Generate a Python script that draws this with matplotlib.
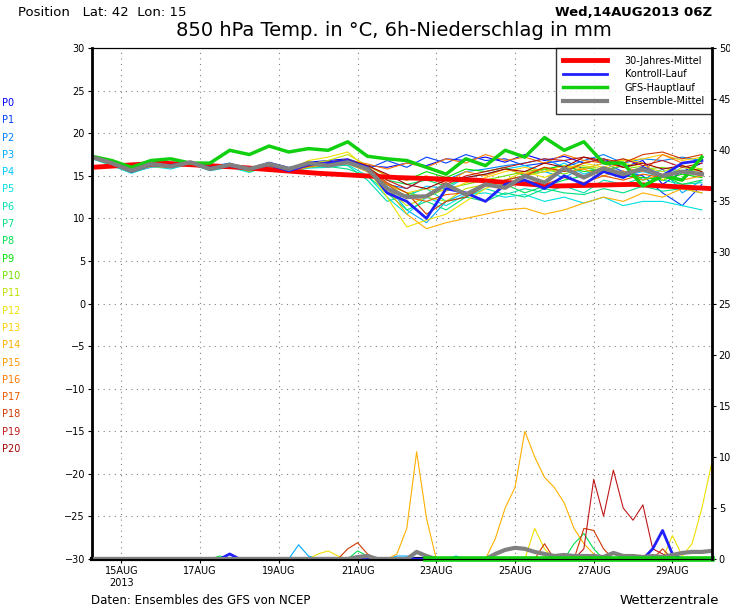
import numpy as np
import matplotlib
matplotlib.use("Agg")
import matplotlib.pyplot as plt

# 12-hourly temperature times (day of August 2013), 6-hourly for precipitation
t12 = [14.25 + 0.5 * k for k in range(32)]
t6 = [14.25 + 0.25 * k for k in range(64)]

member_colors = [
    "#0000ff", "#0040ff", "#0080ff", "#00a8ff", "#00c8ff", "#00e0e0", "#00e0b0",
    "#00e080", "#00e050", "#00e000", "#70e000", "#c0e000", "#f0e000", "#ffd000",
    "#ffb000", "#ff9800", "#ff7800", "#e85800", "#d03800", "#c01818", "#a00000",
]

members_temp = [
    [17.3, 16.6, 15.5, 16.2, 16.0, 16.6, 15.9, 16.4, 15.7, 16.5, 15.8, 16.6, 16.8, 17.0, 16.2, 16.0, 16.5, 16.2, 17.0, 16.8, 17.2, 16.6, 17.5, 16.8, 17.3, 16.5, 17.0, 16.0, 16.8, 14.0, 15.5, 16.5],
    [17.2, 16.4, 15.7, 16.4, 16.2, 16.7, 16.0, 16.2, 15.9, 16.6, 16.0, 16.4, 16.6, 16.9, 15.8, 16.8, 16.0, 17.2, 16.5, 17.5, 16.8, 17.0, 16.2, 16.5, 16.8, 15.8, 16.5, 15.5, 15.0, 13.0, 11.5, 14.0],
    [17.4, 16.5, 15.6, 16.3, 16.1, 16.4, 16.1, 16.5, 15.8, 16.2, 15.6, 16.3, 16.4, 16.7, 15.5, 14.0, 13.5, 14.8, 14.5, 15.5, 15.8, 16.2, 16.5, 17.0, 16.0, 16.8, 17.5, 16.5, 17.0, 16.8, 17.2, 16.8],
    [17.1, 16.3, 15.4, 16.0, 16.3, 16.5, 15.7, 16.3, 15.6, 16.1, 15.4, 16.0, 16.2, 16.5, 15.5, 13.8, 11.0, 9.5, 12.0, 13.0, 13.8, 14.5, 15.0, 15.5, 14.8, 16.0, 15.5, 16.2, 14.5, 15.8, 13.0, 14.5],
    [17.2, 16.5, 15.5, 16.2, 16.0, 16.3, 15.8, 16.1, 15.5, 16.0, 15.7, 16.1, 16.3, 16.6, 15.8, 14.0, 12.5, 13.8, 13.5, 14.8, 15.2, 15.8, 16.2, 15.5, 16.5, 15.2, 16.0, 15.0, 15.5, 14.8, 16.0, 15.5],
    [17.0, 16.2, 15.3, 16.1, 15.8, 16.4, 15.6, 16.0, 15.4, 16.2, 15.5, 15.9, 16.0, 16.3, 15.0, 12.5, 10.5, 12.5, 11.5, 12.8, 13.0, 12.5, 12.8, 12.0, 12.5, 11.8, 12.5, 11.5, 12.0, 12.0, 11.5, 11.0],
    [17.3, 16.4, 15.6, 16.2, 16.1, 16.5, 15.9, 16.3, 15.7, 16.3, 15.6, 16.2, 16.4, 16.2, 14.5, 12.0, 12.8, 13.5, 12.0, 12.5, 13.5, 12.8, 13.5, 13.0, 13.8, 13.0, 14.5, 14.0, 14.8, 14.5, 14.0, 14.2],
    [17.2, 16.3, 15.5, 16.1, 16.0, 16.4, 15.8, 16.2, 15.6, 16.1, 15.5, 16.0, 16.1, 15.8, 15.0, 13.0, 11.0, 12.0, 11.0, 12.5, 12.0, 13.0, 12.5, 13.5, 13.0, 12.8, 13.5, 13.0, 13.8, 13.2, 13.5, 13.0],
    [17.3, 16.5, 15.6, 16.2, 16.1, 16.5, 15.9, 16.3, 15.7, 16.2, 15.6, 16.1, 16.5, 16.8, 16.0, 14.5, 14.0, 14.5, 13.8, 14.8, 14.2, 14.0, 13.0, 13.8, 14.5, 15.0, 15.5, 15.2, 14.5, 15.0, 14.0, 14.5],
    [17.2, 16.4, 15.5, 16.3, 16.0, 16.6, 15.8, 16.4, 15.6, 16.4, 15.7, 16.3, 16.6, 16.9, 16.2, 15.0, 14.5, 15.5, 14.8, 15.8, 15.5, 16.0, 15.0, 15.8, 16.2, 15.5, 15.8, 15.0, 14.8, 14.5, 15.2, 14.8],
    [17.1, 16.3, 15.4, 16.2, 16.1, 16.5, 15.7, 16.2, 15.5, 16.2, 15.6, 16.2, 16.5, 16.7, 15.8, 14.0, 13.0, 12.5, 13.5, 14.0, 14.5, 15.0, 15.5, 15.8, 15.2, 16.0, 15.6, 16.2, 15.8, 16.0, 15.5, 15.8],
    [17.3, 16.5, 15.6, 16.4, 16.2, 16.7, 16.0, 16.4, 15.8, 16.5, 15.8, 16.4, 16.8, 17.5, 16.2, 13.5, 11.5, 12.5, 12.0, 13.5, 14.0, 14.5, 15.0, 15.5, 15.8, 16.2, 15.8, 16.5, 16.0, 15.5, 16.2, 15.8],
    [17.2, 16.4, 15.5, 16.2, 16.0, 16.5, 15.9, 16.3, 15.6, 16.3, 15.7, 16.8, 17.2, 17.8, 15.8, 12.5, 9.0, 9.8, 10.5, 12.0, 13.5, 14.5, 15.5, 14.8, 15.8, 16.5, 16.0, 17.0, 16.5, 14.5, 16.0, 15.5],
    [17.3, 16.5, 15.6, 16.3, 16.1, 16.6, 15.8, 16.3, 15.7, 16.2, 15.6, 16.2, 16.5, 16.6, 15.8, 14.0, 13.0, 13.5, 13.2, 14.2, 14.8, 15.5, 16.0, 15.5, 16.2, 15.8, 16.5, 16.8, 17.0, 17.5, 16.8, 17.2],
    [17.2, 16.4, 15.5, 16.1, 16.0, 16.4, 15.8, 16.2, 15.6, 16.1, 15.5, 16.0, 16.3, 16.4, 15.5, 13.5, 10.5, 8.8, 9.5, 10.0, 10.5, 11.0, 11.2, 10.5, 11.0, 11.8, 12.5, 12.0, 13.0, 12.5, 13.5, 13.0],
    [17.4, 16.6, 15.7, 16.3, 16.1, 16.6, 15.9, 16.4, 15.8, 16.4, 15.7, 16.3, 16.6, 16.9, 16.2, 15.0, 14.5, 15.0, 14.2, 15.5, 15.0, 15.8, 15.2, 16.0, 15.5, 15.8, 15.0, 15.6, 14.5, 15.2, 14.5, 15.0],
    [17.3, 16.5, 15.6, 16.2, 16.1, 16.5, 15.9, 16.3, 15.7, 16.3, 15.6, 16.2, 16.5, 16.8, 16.4, 15.8, 16.5, 16.0, 17.0, 16.5, 17.5, 16.8, 17.2, 16.5, 17.5, 16.8, 16.5, 16.0, 15.5, 17.5, 16.5, 16.8],
    [17.2, 16.4, 15.5, 16.2, 16.0, 16.5, 15.8, 16.3, 15.6, 16.2, 15.6, 16.1, 16.4, 16.6, 15.8, 14.0, 12.5, 12.0, 12.8, 13.0, 14.0, 13.5, 14.5, 14.0, 14.8, 14.2, 15.0, 14.5, 15.2, 14.8, 15.5, 15.0],
    [17.3, 16.6, 15.7, 16.4, 16.2, 16.6, 16.0, 16.4, 15.8, 16.4, 15.8, 16.3, 16.6, 16.8, 16.0, 14.2, 13.0, 10.5, 12.0, 12.5, 13.8, 14.5, 15.0, 16.0, 15.5, 16.5, 17.0, 16.5, 17.5, 17.8, 17.0, 17.5],
    [17.2, 16.4, 15.6, 16.2, 16.1, 16.5, 15.9, 16.4, 15.7, 16.3, 15.7, 16.2, 16.5, 16.7, 16.0, 14.5, 13.5, 14.8, 14.0, 15.0, 15.5, 16.0, 16.5, 17.0, 16.8, 17.2, 16.5, 17.0, 16.2, 16.8, 16.0, 16.5],
    [17.3, 16.5, 15.6, 16.3, 16.0, 16.6, 15.8, 16.3, 15.7, 16.4, 15.6, 16.3, 16.6, 16.9, 16.2, 15.2, 14.0, 13.5, 14.5, 14.8, 15.2, 15.8, 15.5, 16.5, 16.0, 17.2, 16.8, 16.0, 16.5, 15.8, 16.2, 15.5],
]

control_temp = [17.3, 16.5, 15.5, 16.3, 16.2, 16.6, 15.9, 16.2, 15.8, 16.3, 15.6, 16.3, 16.5, 16.8, 16.0, 13.0, 12.0, 10.0, 13.5, 13.0, 12.0, 14.0, 14.5, 13.5, 15.0, 14.0, 15.5, 14.8, 16.0, 15.0, 16.5, 16.8]
gfs_temp = [17.3, 16.8, 16.0, 16.8, 17.0, 16.5, 16.5, 18.0, 17.5, 18.5, 17.8, 18.2, 18.0, 19.0, 17.3, 17.0, 16.8, 16.0, 15.2, 17.0, 16.2, 18.0, 17.2, 19.5, 18.0, 19.0, 16.5, 16.5, 13.8, 15.0, 14.5, 17.2]
mean_temp = [17.2, 16.5, 15.6, 16.4, 16.1, 16.6, 15.8, 16.3, 15.8, 16.4, 15.8, 16.5, 16.2, 16.6, 15.8, 13.5, 12.5, 12.6, 14.0, 12.8, 14.0, 13.6, 15.0, 14.2, 15.9, 14.8, 15.9, 15.2, 15.8, 15.0, 15.5, 15.2]
clim_days = [14.25, 16.0, 18.0, 20.0, 22.0, 24.0, 26.0, 28.0, 30.0]
clim_temp = [16.0, 16.5, 16.0, 15.3, 14.8, 14.5, 13.8, 14.0, 13.5]

# 6h precipitation in mm, 64 steps (members not listed stay dry)
precip = {i: [0.0] * 64 for i in range(21)}
precip[14] = [0] * 31 + [0.5, 3, 10.5, 4, 0, 0, 0, 0, 0, 0, 2, 5, 7, 12.5, 10, 8, 7, 5.5, 3, 1.5, 0.5, 0] + [0] * 11
precip[12] = [0] * 23 + [0.5, 0.8, 0.3] + [0] * 19 + [3, 1, 0] + [0] * 11 + [2.3, 0.3, 1.5, 5.0, 9.4]
precip[19] = [0] * 50 + [1, 7.8, 4.2, 8.7, 5, 3.8, 5.3, 1, 0.5, 0, 0, 0, 0, 0]
precip[18] = [0] * 26 + [1, 1.6, 0.5] + [0] * 17 + [1.5, 0] + [0] * 2 + [3, 2.8, 1] + [0] * 5 + [1, 0, 0, 0, 0, 0]
precip[8] = [0] * 13 + [0.3] + [0] * 13 + [0.8, 0.3] + [0] * 20 + [1.5, 2.5, 1] + [0] * 13
precip[3] = [0] * 21 + [1.4, 0.3] + [0] * 8 + [0.3, 0.3] + [0] * 4 + [0.3] + [0] * 27
control_precip = [0] * 14 + [0.5, 0] + [0] * 41 + [1, 2.8, 0.5, 0, 0, 0, 0]
mean_precip = [0] * 27 + [0.2, 0.3] + [0] * 4 + [0.7, 0.3] + [0] * 6 + [0.5, 0.9, 1.1, 1.0, 0.7, 0.5, 0.3, 0.4, 0.3, 0.3, 0.3, 0.2, 0.6, 0.3, 0.3, 0.2, 0.3, 0.2, 0.4, 0.6, 0.7, 0.7, 0.8]

fig = plt.figure(figsize=(7.3, 6.09), dpi=100)
ax = fig.add_axes([0.126, 0.082, 0.849, 0.839])
ax2 = ax.twinx()

for i, col in enumerate(member_colors):
    pr = (precip[i] + [0] * 64)[:64]
    ax.plot(t12, members_temp[i], color=col, lw=0.8)
    if any(pr):
        ax2.plot(t6, pr, color=col, lw=0.8)

ax.plot(clim_days, clim_temp, color="#ff0000", lw=3.5, label="30-Jahres-Mittel")
ax.plot(t12, control_temp, color="#2020ff", lw=2, label="Kontroll-Lauf")
ax.plot(t12, gfs_temp, color="#10d010", lw=2.5, label="GFS-Hauptlauf")
ax.plot(t12, mean_temp, color="#808080", lw=3, label="Ensemble-Mittel")
ax2.plot(t6, (control_precip + [0] * 64)[:64], color="#2020ff", lw=2)
ax2.plot(t6, (mean_precip + [0] * 64)[:64], color="#808080", lw=3)
ax2.plot([22.75, 30.0], [0, 0], color="#10d010", lw=4, clip_on=False)

ax.set_xlim(14.25, 30.0)
ax.set_ylim(-30, 30)
ax2.set_ylim(0, 50)
ax.set_yticks(range(-30, 31, 5))
ax2.set_yticks(range(0, 51, 5))
ax.set_xticks(range(15, 30, 2))
ax.set_xticklabels(["15AUG\n2013"] + [f"{d}AUG" for d in range(17, 30, 2)])
ax.grid(True, color="#808080", ls=(0, (1, 4)), lw=0.8)
for a in (ax, ax2):
    a.tick_params(labelsize=7, length=3, pad=2)
ax.spines["left"].set_linewidth(2)
ax.spines["bottom"].set_linewidth(3)
ax2.spines["right"].set_linewidth(2)

leg = ax.legend(loc="upper right", fontsize=7, frameon=True, fancybox=False,
                edgecolor="black", borderaxespad=0, handlelength=4.5, handletextpad=1.8,
                borderpad=0.8, labelspacing=0.35)
leg.get_frame().set_linewidth(1)
leg.set_zorder(5)

for i, col in enumerate(member_colors):
    fig.text(0.003, 1 - (103 + i * 17.3) / 609, f"P{i}", color=col, fontsize=7, va="center")

fig.text(0.025, 0.99, "Position   Lat: 42  Lon: 15", fontsize=9.5, va="top")
fig.text(0.975, 0.99, "Wed,14AUG2013 06Z", fontsize=9.5, weight="bold", va="top", ha="right")
fig.text(0.54, 0.965, "850 hPa Temp. in °C, 6h-Niederschlag in mm", fontsize=14, va="top", ha="center")
fig.text(0.125, 0.008, "Daten: Ensembles des GFS von NCEP", fontsize=8.5)
fig.text(0.985, 0.008, "Wetterzentrale", fontsize=9.5, ha="right")

fig.savefig("out.png", dpi=100)
